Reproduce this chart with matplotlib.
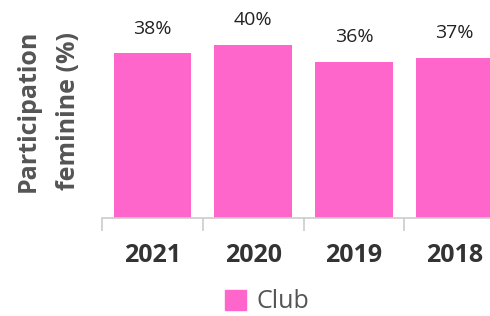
import numpy as np
import matplotlib
matplotlib.use("Agg")
import matplotlib.pyplot as plt
from matplotlib.patches import Patch

years = ["2021", "2020", "2019", "2018"]
club = [38, 40, 36, 37]

plt.rcParams['font.family'] = ['Open Sans', 'DejaVu Sans']

fig = plt.figure(figsize=(4.9, 3.16), dpi=100)
ax = fig.add_axes([102/490, 98/316, 403/490, 218/316])

pink = '#ff66cc'
x = np.arange(len(years))
ax.bar(x, club, width=0.77, color=pink)
for xi, v in zip(x, club):
    ax.text(xi, v + 3.6, f'{v}%', ha='center', va='bottom', fontsize=14, color='#222222')

ax.set_xlim(-0.5, len(years) - 0.5)
ax.set_ylim(0, 50.3)
ax.set_yticks([])
for s in ['top', 'right', 'left']:
    ax.spines[s].set_visible(False)
ax.spines['bottom'].set_color('#cccccc')
ax.spines['bottom'].set_linewidth(1.2)

ax.set_xticks(x)
ax.set_xticklabels(years, fontsize=18, fontweight='bold', color='#333333')
ax.tick_params(axis='x', length=0, pad=18)
ax.set_xticks(np.arange(len(years)) - 0.5, minor=True)
ax.tick_params(axis='x', which='minor', length=9, color='#cccccc', width=1.2)

ax.set_ylabel('Participation\nfeminine (%)', fontsize=18, fontweight='bold',
              color='#555555', linespacing=1.8)
ax.yaxis.set_label_coords(-0.052, 0.49)

fig.legend(handles=[Patch(color=pink, label='Club')], loc='center',
           bbox_to_anchor=(267/490, 1 - 302/316), frameon=False, fontsize=18,
           handlelength=0.85, handleheight=0.85, handletextpad=0.4,
           labelcolor='#555555')

fig.savefig('out.png', dpi=100)
